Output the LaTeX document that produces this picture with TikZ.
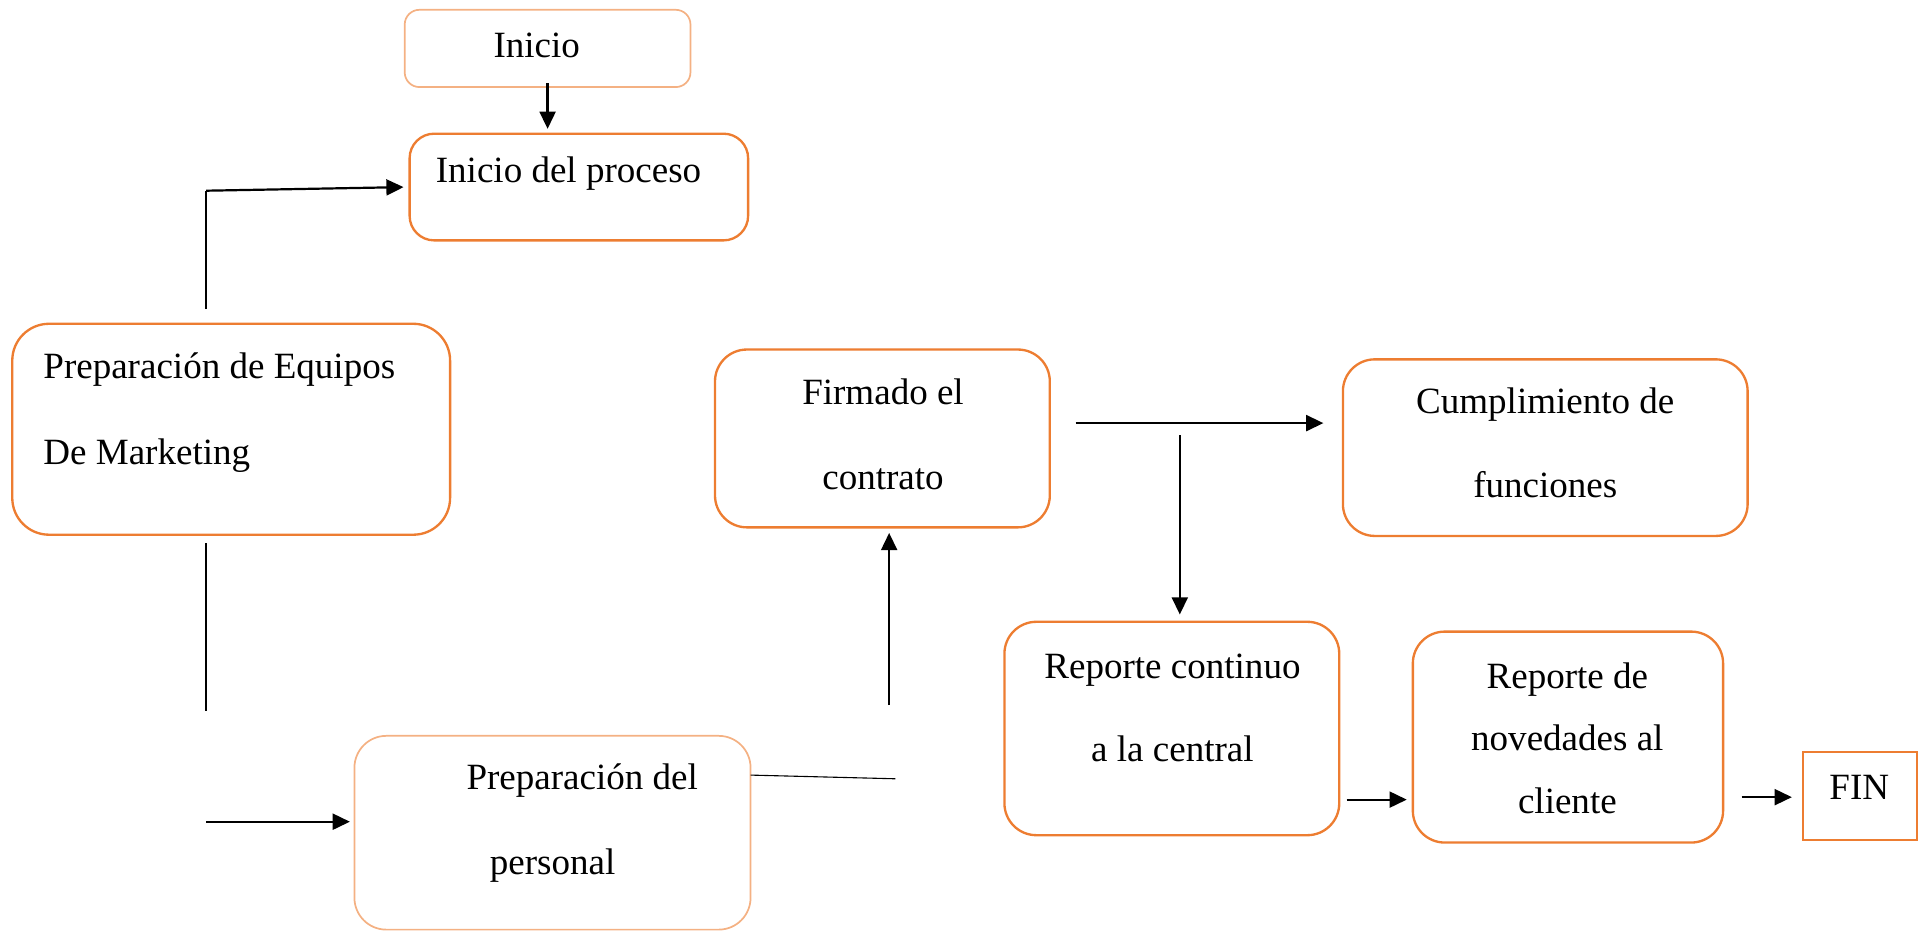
\documentclass[tikz,border=0pt]{standalone}
\usepackage{fontspec}
\setmainfont{Liberation Serif}
\usetikzlibrary{arrows.meta,fit}
\definecolor{boxorange}{HTML}{ED7D31}
\definecolor{paleorange}{HTML}{F4B183}

\begin{document}
\begin{tikzpicture}[x=0.5pt, y=-0.5pt,
		box/.style={draw=boxorange, line width=0.95pt, rounded corners=13pt, inner sep=0pt},
		palebox/.style={box, draw=paleorange, line width=0.7pt},
		txt/.style={anchor=base, inner sep=0pt, font=\fontsize{15.1}{18}\selectfont},
		arr/.style={line width=0.9pt, -{Triangle[length=7pt,width=6.5pt]}},
		thinline/.style={line width=0.45pt}]
		\useasboundingbox (0,0) rectangle (1568,760);

		% cajas
		\node[palebox, rounded corners=6pt, fit={(330,8) (563,71)}] (inicio) {};
		\node[box, rounded corners=10pt, fit={(334,109) (610,196)}] (proceso) {};
		\node[box, rounded corners=15pt, fit={(10,264) (367,436)}] (equipos) {};
		\node[palebox, fit={(289,600) (612,758)}] (personal) {};
		\node[box, fit={(583,285) (856,430)}] (firmado) {};
		\node[box, fit={(1095,293) (1425,437)}] (cumplimiento) {};
		\node[box, fit={(819,507) (1092,681)}] (reporte) {};
		\node[box, fit={(1152,515) (1405,687)}] (novedades) {};
		\node[box, rounded corners=0pt, fit={(1470,613) (1563,685)}] (fin) {};

		% textos
		\node[txt, anchor=base west] (tinicio) at (402,47) {Inicio};
		\node[txt, anchor=base west] (tproceso) at (355,149) {Inicio del proceso};
		\node[txt, anchor=base west] (tequipos1) at (35,308.5) {Preparación de Equipos};
		\node[txt, anchor=base west] (tequipos2) at (35,379) {De Marketing};
		\node[txt, anchor=base west] (tpersonal1) at (380,644) {Preparación del};
		\node[txt, anchor=base west] (tpersonal2) at (399,713) {personal};
		\node[txt] (tfirmado1) at (720,330) {Firmado el};
		\node[txt] (tfirmado2) at (720,399) {contrato};
		\node[txt] (tcumpl1) at (1260,337) {Cumplimiento de};
		\node[txt] (tcumpl2) at (1260,406) {funciones};
		\node[txt] (treporte1) at (956,553) {Reporte continuo};
		\node[txt] (treporte2) at (956,621) {a la central};
		\node[txt] (tnovedades1) at (1278,561) {Reporte de};
		\node[txt] (tnovedades2) at (1278,612) {novedades al};
		\node[txt] (tnovedades3) at (1278,663) {cliente};
		\node[txt] (tfin) at (1516,652) {FIN};

		% puntos sueltos
		\coordinate (eqtop) at (168,252);
		\coordinate (eqcorner) at (168,155.5);
		\coordinate (eqbelow) at (168,443);
		\coordinate (eqgap) at (168,580);
		\coordinate (persin) at (168,670);
		\coordinate (persout) at (612,632);
		\coordinate (persend) at (730,635);
		\coordinate (firmin) at (725,575);
		\coordinate (firmout) at (877,345);
		\coordinate (repin) at (962,355);
		\coordinate (repout) at (1098,652);
		\coordinate (novout) at (1420,650);

		% conectores
		\draw[arr, shorten >=1.5pt] ([yshift=2pt]inicio.south) -- (proceso.north -| inicio.south);
		\draw[thinline] (eqtop) -- (eqcorner);
		\draw[arr, shorten >=2pt] (eqcorner) -- (proceso.west);
		\draw[thinline] (eqbelow) -- (eqgap);
		\draw[arr, shorten >=1.5pt] (persin) -- (personal.west |- persin);
		\draw[thinline] (persout) -- (persend);
		\draw[arr, shorten >=1.8pt] (firmin) -- (firmado.south -| firmin);
		\draw[arr, shorten >=7.5pt] (firmout) -- (cumplimiento.west |- firmout);
		\draw[arr, shorten >=2.5pt] (repin) -- (reporte.north -| repin);
		\draw[arr, shorten >=2pt] (repout) -- (novedades.west |- repout);
		\draw[arr, shorten >=4pt] (novout) -- (fin.west |- novout);
	\end{tikzpicture}
\end{document}
